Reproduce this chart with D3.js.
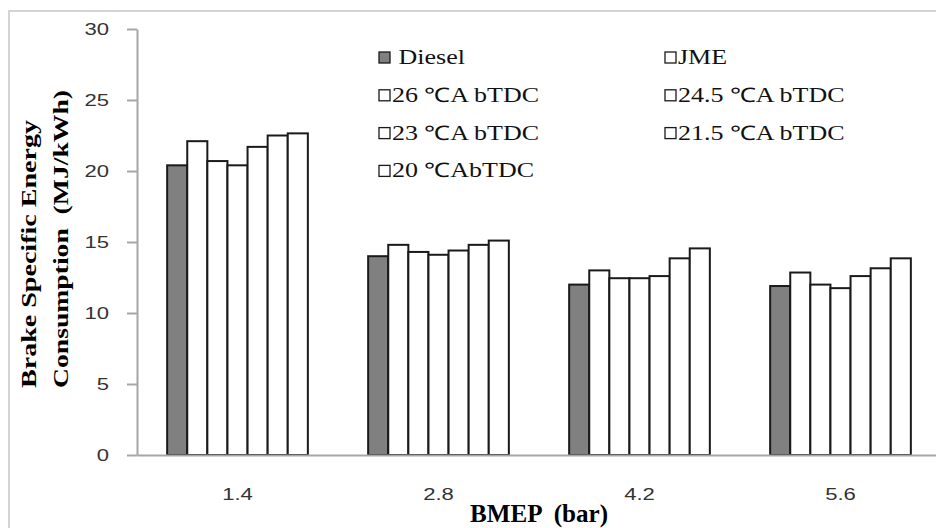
<!DOCTYPE html>
<html>
<head>
<meta charset="utf-8">
<script src="https://cdn.jsdelivr.net/npm/d3@7"></script>
<style>
  body { margin:0; background:#fff; }
  svg { display:block; }
</style>
</head>
<body>
<div id="chart"></div>
<script>
// categories (BMEP, bar)
var categories = ['1.4', '2.8', '4.2', '5.6']

// series names, as in the legend
var seriesNames = ['Diesel', 'JME', '26 \u2103A bTDC', '24.5 \u2103A bTDC',
                   '23 \u2103A bTDC', '21.5 \u2103A bTDC', '20 \u2103AbTDC']

// BSEC values (MJ/kWh), one array per series, in category order
var diesel = [20.4, 14.0, 12.0, 11.9]
var jme    = [22.1, 14.8, 13.0, 12.85]
var t26    = [20.7, 14.3, 12.45, 12.0]
var t245   = [20.4, 14.1, 12.45, 11.75]
var t23    = [21.7, 14.4, 12.6, 12.6]
var t215   = [22.5, 14.8, 13.85, 13.15]
var t20    = [22.65, 15.1, 14.55, 13.85]

var yTicks = [0, 5, 10, 15, 20, 25, 30]

var seriesValues = [diesel, jme, t26, t245, t23, t215, t20]

var W = 936, H = 528
var m = { top:29, left:137, bottom:73 }
var plotRight = 941   // the plot runs off the right edge of the picture
var sx = 1.3          // text in the original is stretched sideways

var svg = d3.select('#chart').append('svg')
    .attr('width', W)
    .attr('height', H)

// outer chart-area frame (only top and left edges are in view)
svg.append('rect')
    .attr('x', 9).attr('y', 11)
    .attr('width', W + 20).attr('height', H + 20)
    .style('fill', '#fff')
    .style('stroke', '#d4d4d4')
    .style('stroke-width', 2)

var y = d3.scaleLinear()
    .domain([0, 30])
    .range([H - m.bottom, m.top])

var x0 = d3.scaleBand()
    .domain(categories)
    .range([m.left, plotRight])
    .paddingInner(0.3)
    .paddingOuter(0.15)

var x1 = d3.scaleBand()
    .domain(d3.range(seriesNames.length))
    .range([0, x0.bandwidth()])

var fills = ['#808080', '#fff', '#fff', '#fff', '#fff', '#fff', '#fff']

// bars, one group per category
var groups = svg.append('g').selectAll('g')
    .data(categories)
  .enter().append('g')
    .attr('transform', d=> 'translate(' + x0(d) + ',0)')

groups.selectAll('rect')
    .data((c, ci)=> seriesValues.map((vals, si)=> ({ si:si, v:vals[ci] })))
  .enter().append('rect')
    .attr('x', d=> x1(d.si))
    .attr('y', d=> y(d.v))
    .attr('width', x1.bandwidth())
    .attr('height', d=> y(0) - y(d.v))
    .style('fill', d=> fills[d.si])
    .style('stroke', '#1a1a1a')
    .style('stroke-width', 2)

// y axis
var yAxis = svg.append('g')
    .attr('transform', 'translate(' + m.left + ',0)')
    .call(d3.axisLeft(y).tickValues(yTicks).tickSize(10).tickSizeOuter(0).tickPadding(18))

yAxis.selectAll('text')
    .style('font-family', '"Liberation Sans", Arial, sans-serif')
    .style('font-size', '17px')
    .style('fill', '#333')
    .each(function() {
        var tx = +this.getAttribute('x')
        this.setAttribute('x', 0)
        this.setAttribute('transform', 'translate(' + tx + ',0) scale(' + sx + ',1)')
    })

// x axis
var xAxis = svg.append('g')
    .attr('transform', 'translate(0,' + y(0) + ')')
    .call(d3.axisBottom(x0).tickSize(0).tickSizeOuter(0).tickPadding(33))

xAxis.selectAll('text')
    .style('font-family', '"Liberation Sans", Arial, sans-serif')
    .style('font-size', '17px')
    .style('fill', '#333')
    .attr('transform', 'scale(' + sx + ',1)')

svg.selectAll('.domain, .tick line')
    .style('stroke', '#a6a6a6')
    .style('stroke-width', 2)

// axis titles
svg.append('text')
    .attr('x', (m.left + plotRight) / 2)
    .attr('y', 522)
    .attr('text-anchor', 'middle')
    .attr('textLength', 138)
    .attr('lengthAdjust', 'spacingAndGlyphs')
    .style('font-family', '"Liberation Serif", "Times New Roman", serif')
    .style('font-weight', 'bold')
    .style('font-size', '25px')
    .style('white-space', 'pre')
    .text('BMEP  (bar)')

var yTitle = [['Brake Specific Energy', 36, 268], ['Consumption  (MJ/kWh)', 68, 298]]
yTitle.forEach(function(t) {
    svg.append('text')
        .attr('transform', 'translate(' + t[1] + ',388) rotate(-90)')
        .attr('textLength', t[2])
        .attr('lengthAdjust', 'spacingAndGlyphs')
        .style('font-family', '"Liberation Serif", "Times New Roman", serif')
        .style('font-weight', 'bold')
        .style('font-size', '21px')
        .style('white-space', 'pre')
        .text(t[0])
})

// legend: two columns, filled down in rows of two
var legend = svg.append('g')
var colX = [379, 665]
var rowY = d3.scaleLinear().domain([0, 1]).range([57.5, 95.3])

var items = legend.selectAll('g')
    .data(seriesNames)
  .enter().append('g')
    .attr('transform', (d, i)=> 'translate(' + colX[i % 2] + ',' + rowY(Math.floor(i / 2)) + ')')

items.append('rect')
    .attr('x', 0).attr('y', -5.5)
    .attr('width', 11).attr('height', 11)
    .style('fill', (d, i)=> fills[i])
    .style('stroke', '#1a1a1a')
    .style('stroke-width', 1.3)

items.append('text')
    .attr('transform', 'translate(13,6.5) scale(' + sx + ',1)')
    .style('font-family', '"Liberation Serif", "Times New Roman", serif')
    .style('font-size', '20px')
    .style('white-space', 'pre')
    .style('fill', '#111')
    .text((d, i)=> i == 0 ? ' ' + d : d)
</script>
</body>
</html>
